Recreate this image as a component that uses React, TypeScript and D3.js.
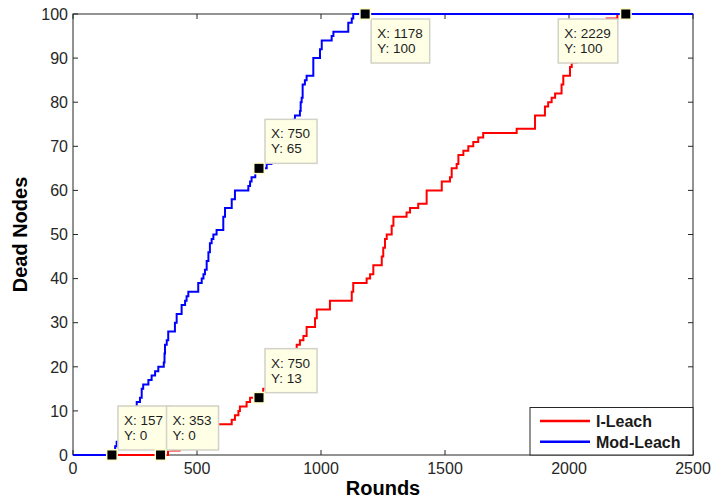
import React from "react";
import * as d3 from "d3";

// ---- data ----
const iLeachRounds = [0, 383, 430, 460, 490, 520, 550, 580, 640, 653, 667, 673, 700, 714, 760, 767, 790, 810, 830, 850, 870, 890, 902, 915, 929, 942, 976, 983, 1036, 1124, 1130, 1184, 1198, 1211, 1245, 1251, 1258, 1265, 1285, 1292, 1345, 1359, 1392, 1426, 1487, 1520, 1527, 1547, 1554, 1574, 1594, 1614, 1634, 1654, 1789, 1863, 1903, 1916, 1930, 1944, 1970, 1977, 2004, 2011, 2030, 2050, 2070, 2090, 2110, 2130, 2145, 2152, 2195, 2500];
const iLeachDead = [0, 1, 2, 3, 4, 5, 6, 7, 8, 9, 10, 11, 12, 13, 14, 15, 16, 17, 19, 20, 22, 23, 25, 26, 27, 29, 31, 33, 35, 37, 39, 40, 41, 43, 45, 47, 49, 50, 52, 54, 55, 56, 57, 60, 62, 63, 65, 66, 68, 69, 70, 71, 72, 73, 74, 77, 79, 80, 81, 82, 84, 86, 88, 89, 90, 92, 93, 95, 96, 97, 98, 99, 100, 100];

const modLeachRounds = [0, 157, 165, 170, 176, 185, 195, 205, 215, 225, 235, 245, 257, 270, 277, 283, 304, 317, 331, 344, 366, 369, 371, 378, 384, 411, 418, 438, 452, 458, 465, 505, 519, 526, 532, 539, 546, 552, 559, 566, 579, 606, 613, 640, 653, 707, 714, 720, 735, 750, 781, 800, 820, 840, 860, 875, 888, 895, 915, 918, 922, 926, 935, 942, 969, 996, 1003, 1043, 1050, 1110, 1124, 1130, 2500];
const modLeachDead = [0, 0, 1, 2, 3, 4, 5, 6, 7, 8, 9, 10, 12, 13, 15, 16, 17, 18, 19, 20, 21, 23, 25, 26, 28, 30, 32, 34, 35, 36, 37, 39, 40, 41, 42, 44, 46, 48, 49, 50, 51, 54, 56, 58, 60, 61, 62, 63, 64, 65, 66, 67, 69, 71, 73, 74, 76, 77, 78, 80, 81, 84, 85, 86, 90, 92, 94, 95, 96, 98, 99, 100, 100];

const seriesNames = ["I-Leach", "Mod-Leach"];
const seriesColors = ["#ff0000", "#0000ff"];

const markerX = [157, 353, 750, 750, 1178, 2229];
const markerY = [0, 0, 13, 65, 100, 100];

const xTicks = [0, 500, 1000, 1500, 2000, 2500];
const yTicks = [0, 10, 20, 30, 40, 50, 60, 70, 80, 90, 100];

const xTitle = "Rounds";
const yTitle = "Dead Nodes";

// ---- layout ----
const W = 711, H = 499;
const L = 73, R = 693, T = 14, B = 455;
const FONT = "'Liberation Sans', Arial, sans-serif";
const TIP_FONT_SIZE = 13.5;

let ctx: CanvasRenderingContext2D | null = null;
function measure(text: string, size: number, weight = "normal") {
  if (!ctx) ctx = document.createElement("canvas").getContext("2d");
  if (!ctx) return text.length * size * 0.55;
  ctx.font = `${weight} ${size}px 'Liberation Sans', Arial, sans-serif`;
  return ctx.measureText(text).width;
}

export default function App() {
  const x = d3.scaleLinear().domain([0, 2500]).range([L, R]);
  const y = d3.scaleLinear().domain([0, 100]).range([B, T]);
  const line = d3
    .line<[number, number]>()
    .x((d) => x(d[0]))
    .y((d) => y(d[1]))
    .curve(d3.curveStepAfter);

  const series = [
    iLeachRounds.map((r, i) => [r, iLeachDead[i]] as [number, number]),
    modLeachRounds.map((r, i) => [r, modLeachDead[i]] as [number, number]),
  ];

  const tickLen = 5;
  const axisColor = "#262626";

  return (
    <svg width={W} height={H} style={{ position: "absolute", left: 0, top: 0, background: "#fff" }} fontFamily={FONT}>
      <rect x={0} y={0} width={W} height={H} fill="#fff" />
      <rect x={L} y={T} width={R - L} height={B - T} fill="#fff" />
      {/* ticks on all four sides, inward */}
      {xTicks.map((t) => (
        <g key={"xt" + t}>
          <line x1={x(t)} x2={x(t)} y1={B} y2={B - tickLen} stroke={axisColor} strokeWidth={1} />
          <line x1={x(t)} x2={x(t)} y1={T} y2={T + tickLen} stroke={axisColor} strokeWidth={1} />
          <text x={x(t)} y={474} textAnchor="middle" fontSize={16} fill={axisColor}>
            {t}
          </text>
        </g>
      ))}
      {yTicks.map((t) => (
        <g key={"yt" + t}>
          <line x1={L} x2={L + tickLen} y1={y(t)} y2={y(t)} stroke={axisColor} strokeWidth={1} />
          <line x1={R} x2={R - tickLen} y1={y(t)} y2={y(t)} stroke={axisColor} strokeWidth={1} />
          <text x={L - 5} y={y(t)} dy="0.36em" textAnchor="end" fontSize={16} fill={axisColor}>
            {t}
          </text>
        </g>
      ))}
      <rect x={L} y={T} width={R - L} height={B - T} fill="none" stroke={axisColor} strokeWidth={1} />

      {/* series */}
      {series.map((s, i) => (
        <path key={"s" + i} d={line(s) || ""} fill="none" stroke={seriesColors[i]} strokeWidth={2} />
      ))}

      {/* data tips */}
      {markerX.map((mx, i) => {
        const px = x(mx);
        const py = y(markerY[i]);
        const l1 = `X: ${mx}`;
        const l2 = `Y: ${markerY[i]}`;
        const tw = Math.max(measure(l1, TIP_FONT_SIZE), measure(l2, TIP_FONT_SIZE));
        const bw = tw + 13;
        const bh = 44;
        let bx = px + 6;
        if (bx + bw > R - 2) bx = px - 8 - bw;
        let by = py - 49;
        if (by < T) by = py + 5;
        return (
          <g key={"m" + i}>
            <rect x={bx} y={by} width={bw} height={bh} fill="#ffffe6" stroke="#d2d2c8" strokeWidth={1.5} />
            <text x={bx + 6} y={by + 19} fontSize={TIP_FONT_SIZE} fill="#1e1e1e">
              {l1}
            </text>
            <text x={bx + 6} y={by + 34} fontSize={TIP_FONT_SIZE} fill="#1e1e1e">
              {l2}
            </text>
            <rect x={px - 6} y={py - 6} width={12} height={12} fill="#ffffcc" />
            <rect x={px - 4.5} y={py - 4.5} width={9} height={9} fill="#000" />
          </g>
        );
      })}

      {/* legend */}
      <rect x={530} y={407.5} width={R - 530} height={B - 407.5} fill="#fff" stroke={axisColor} strokeWidth={1} />
      {seriesNames.map((n, i) => (
        <g key={"lg" + i}>
          <line x1={540} x2={590} y1={421 + i * 20.7} y2={421 + i * 20.7} stroke={seriesColors[i]} strokeWidth={2.5} />
          <text x={596} y={426.7 + i * 21.5} fontSize={16} fontWeight="bold" fill="#1a1a1a">
            {n}
          </text>
        </g>
      ))}

      {/* axis titles */}
      <text x={(L + R) / 2} y={494.5} textAnchor="middle" fontSize={20} fontWeight="bold" fill="#000">
        {xTitle}
      </text>
      <text transform={`translate(26.5, ${(T + B) / 2}) rotate(-90)`} textAnchor="middle" fontSize={20} fontWeight="bold" fill="#000">
        {yTitle}
      </text>
    </svg>
  );
}
